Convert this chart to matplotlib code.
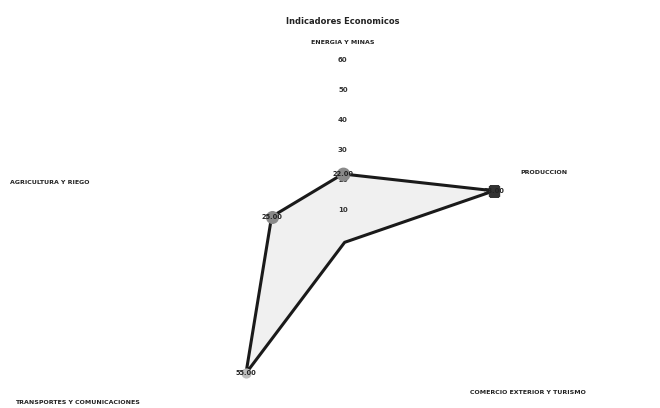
import numpy as np
import matplotlib.pyplot as plt

categorias = ['ENERGIA Y MINAS', 'PRODUCCION', 'COMERCIO EXTERIOR Y TURISMO',
              'TRANSPORTES Y COMUNICACIONES', 'AGRICULTURA Y RIEGO']
valores = [22, 53, 1, 55, 25]
etiquetas = ['22.00', '53.00', '', '55.00', '25.00']
escala = [0, 10, 20, 30, 40, 50, 60]

fig = plt.figure(figsize=(6.6, 4.08), dpi=100)
ax = fig.add_axes([0.247, -0.029, 0.545, 0.882], projection='polar')
ax.set_theta_offset(np.pi / 2)
ax.set_theta_direction(-1)
ax.set_ylim(0, 60)
ax.grid(False)
ax.spines['polar'].set_visible(False)
ax.set_xticks([])
ax.set_yticks([])
ax.patch.set_alpha(0)

ang = np.linspace(0, 2 * np.pi, len(categorias), endpoint=False)
th = np.concatenate([ang, ang[:1]])
v = np.concatenate([valores, valores[:1]])

ax.fill(th, v, color='#f0f0f0', zorder=1)
ax.plot(th, v, color='#1a1a1a', lw=2.2, zorder=2)

# tick labels along the top axis
for r in escala[1:]:
    ax.text(0, r, str(r), fontsize=5, fontweight='bold', ha='center', va='center',
            color='#333333', zorder=3)

# vertex markers (the right one is a dark square in the original)
mk = ['o', 's', 'o', 'o', 'o']
col = ['#8a8a8a', '#333333', '#8a8a8a', '#bdbdbd', '#8a8a8a']
sz = [80, 55, 0, 40, 70]
for a, val, m, c, s in zip(ang, valores, mk, col, sz):
    ax.scatter([a], [val], s=s, color=c, marker=m, zorder=4)

for a, val, t in zip(ang, valores, etiquetas):
    ax.text(a, val, t, fontsize=4.8, fontweight='bold', ha='center',
            va='center', color='#222222', zorder=5)

fig.text(0.52, 1 - 22 / 408, 'Indicadores Economicos', fontsize=6, fontweight='bold',
         ha='center', va='center', color='#222222')
fig.text(0.52, 1 - 43 / 408, categorias[0], fontsize=4.5, fontweight='bold',
         ha='center', va='center', color='#222222')
fig.text(520 / 660, 1 - 172 / 408, categorias[1], fontsize=4.5, fontweight='bold',
         ha='left', va='center', color='#222222')
fig.text(470 / 660, 1 - 393 / 408, categorias[2], fontsize=4.5, fontweight='bold',
         ha='left', va='center', color='#222222')
fig.text(15 / 660, 1 - 403 / 408, categorias[3], fontsize=4.5, fontweight='bold',
         ha='left', va='center', color='#222222')
fig.text(10 / 660, 1 - 183 / 408, categorias[4], fontsize=4.5, fontweight='bold',
         ha='left', va='center', color='#222222')

fig.savefig('out.png', dpi=100)
